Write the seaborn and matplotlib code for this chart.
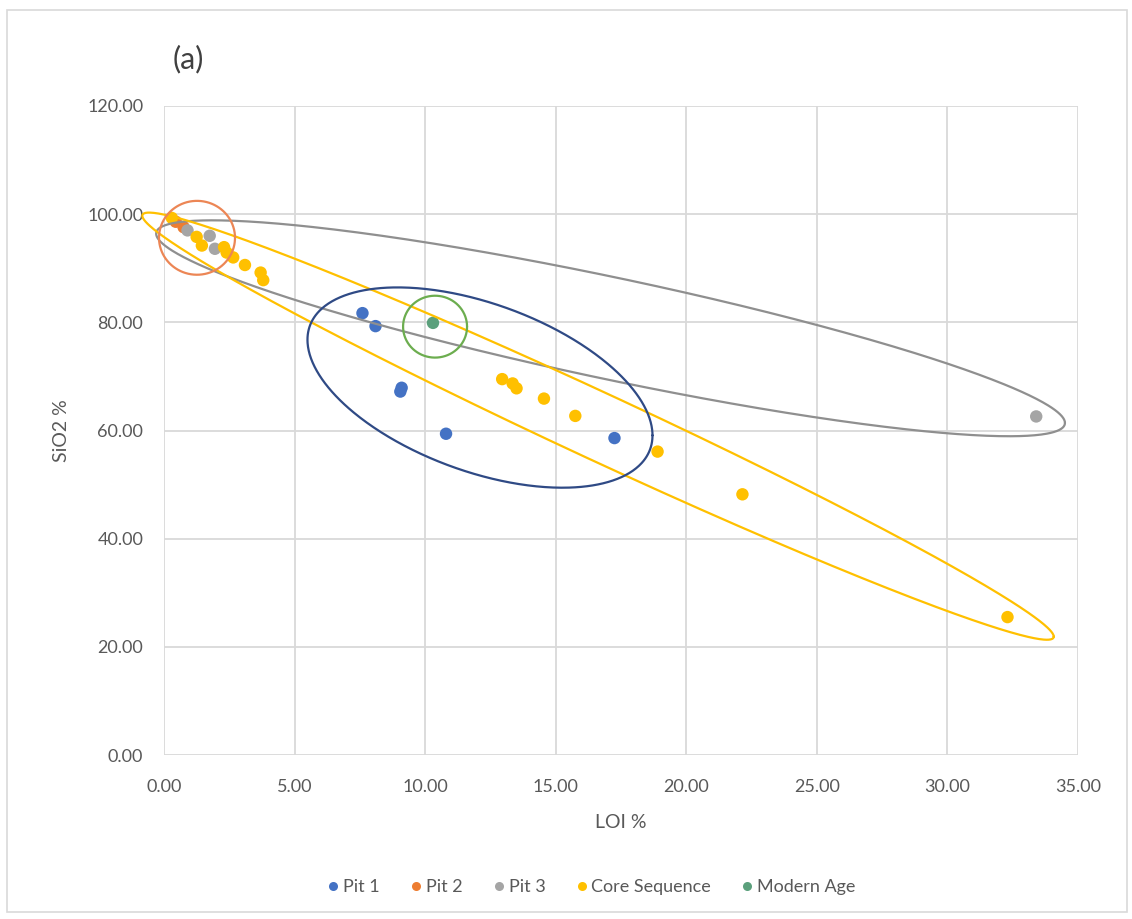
import numpy as np
import pandas as pd
import matplotlib
matplotlib.use("Agg")
import matplotlib.pyplot as plt
import seaborn as sns
from matplotlib.lines import Line2D
from matplotlib.patches import Rectangle
from matplotlib.ticker import FormatStrFormatter

# ---------------- data ----------------
series_names = ["Pit 1", "Pit 2", "Pit 3", "Core Sequence", "Modern Age"]

pit1_loi = [7.6, 8.1, 9.05, 9.1, 10.8, 17.25]
pit1_sio2 = [81.7, 79.3, 67.2, 67.9, 59.4, 58.6]

pit2_loi = [0.45, 0.75]
pit2_sio2 = [98.6, 97.6]

pit3_loi = [0.9, 1.75, 1.95, 33.4]
pit3_sio2 = [97.0, 96.0, 93.6, 62.6]

core_loi = [0.3, 1.25, 1.45, 2.3, 2.4, 2.65, 3.1, 3.7, 3.8,
            12.95, 13.35, 13.5, 14.55, 15.75, 18.9, 22.15, 32.3]
core_sio2 = [99.3, 95.8, 94.2, 93.9, 92.9, 92.0, 90.6, 89.2, 87.8,
             69.5, 68.7, 67.8, 65.9, 62.7, 56.1, 48.2, 25.5]

modern_loi = [10.3]
modern_sio2 = [79.9]

x_ticks = [0, 5, 10, 15, 20, 25, 30, 35]
y_ticks = [0, 20, 40, 60, 80, 100, 120]

colors = {"Pit 1": "#4472C4", "Pit 2": "#ED7D31", "Pit 3": "#A5A5A5",
          "Core Sequence": "#FFC000", "Modern Age": "#5BA07C"}

# annotation ellipses (data units): centre, x half-width, vertical shear, vertical half-height
ellipses = [
    dict(cx=17.10, cy=78.9, X=17.40, S=-17.5, H=9.6, color="#8F8F8F"),     # grey (Pit 3)
    dict(cx=16.62, cy=60.8, X=17.45, S=-38.9, H=6.8, color="#FFC000"),     # yellow (core)
    dict(cx=12.10, cy=67.94, X=6.606, S=-8.84, H=16.27, color="#2F4A85"),  # blue (Pit 1)
    dict(cx=1.264, cy=95.63, X=1.455, S=0.0, H=6.83, color="#EC8655"),     # orange (Pit 2)
    dict(cx=10.38, cy=79.20, X=1.225, S=0.0, H=5.72, color="#6CAD4F"),     # green (Modern)
]

# ---------------- build frame ----------------
frames = []
for name, xs, ys in [("Pit 1", pit1_loi, pit1_sio2), ("Pit 2", pit2_loi, pit2_sio2),
                     ("Pit 3", pit3_loi, pit3_sio2), ("Core Sequence", core_loi, core_sio2),
                     ("Modern Age", modern_loi, modern_sio2)]:
    frames.append(pd.DataFrame({"LOI": xs, "SiO2": ys, "Series": name}))
df = pd.concat(frames, ignore_index=True)

sns.set_theme(style="white")
plt.rcParams['font.family'] = ['Lato', 'DejaVu Sans']

W, H = 1132, 919
fig = plt.figure(figsize=(W / 100, H / 100), dpi=100)
ax = fig.add_axes([164 / W, 1 - 755 / H, (1078 - 164) / W, (755 - 106) / H])

for name in series_names:
    sub = df[df["Series"] == name]
    sns.scatterplot(data=sub, x="LOI", y="SiO2", color=colors[name], s=80,
                    edgecolor="none", linewidth=0, legend=False, ax=ax, zorder=3)

t = np.linspace(0, 2 * np.pi, 600)
for e in ellipses:
    ex = e["cx"] + e["X"] * np.cos(t)
    ey = e["cy"] + e["S"] * np.cos(t) + e["H"] * np.sin(t)
    ax.plot(ex, ey, color=e["color"], lw=1.6, zorder=4, clip_on=False)

ax.set_xlim(0, 35)
ax.set_ylim(0, 120)
ax.set_xticks(x_ticks)
ax.set_yticks(y_ticks)
ax.xaxis.set_major_formatter(FormatStrFormatter('%.2f'))
ax.yaxis.set_major_formatter(FormatStrFormatter('%.2f'))
ax.grid(True, color='#D9D9D9', lw=1.3)
ax.set_axisbelow(True)
for s in ax.spines.values():
    s.set_visible(False)
ax.tick_params(axis='both', length=0, labelsize=13, colors='#595959')
ax.tick_params(axis='x', pad=17)
ax.tick_params(axis='y', pad=15)
ax.set_xlabel("LOI %", fontsize=14, color='#595959', labelpad=14)
ax.set_ylabel("SiO2 %", fontsize=14, color='#595959', labelpad=12)

fig.text(188 / W, 1 - 59 / H, "(a)", fontsize=22, color='#404040', ha='center', va='center')

handles = [Line2D([0], [0], marker='o', linestyle='', markersize=6.5,
                  markerfacecolor=colors[n], markeredgecolor='none') for n in series_names]
fig.legend(handles, series_names, loc='center', bbox_to_anchor=(590 / W, 1 - 887 / H),
           ncol=5, frameon=False, fontsize=13, handletextpad=0.05, handlelength=1.0,
           columnspacing=1.5, labelcolor='#595959')

fig.patches.append(Rectangle((7 / W, 1 - 912 / H), (1127 - 7) / W, (912 - 10) / H,
                             transform=fig.transFigure, fill=False, ec='#D9D9D9', lw=1.2))

fig.savefig("out.png", dpi=100, facecolor='white')
